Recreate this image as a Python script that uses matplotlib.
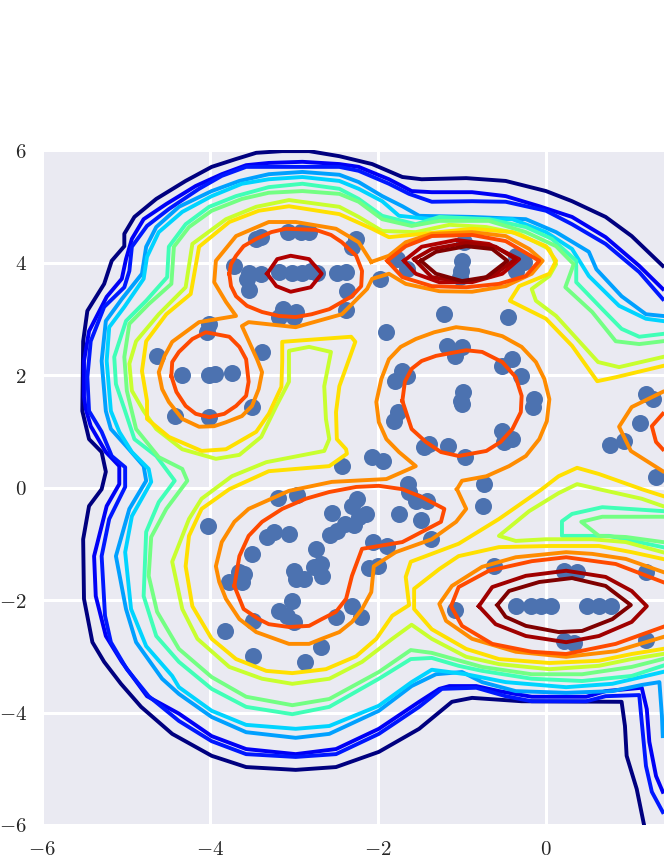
import matplotlib
matplotlib.use('Agg')
import matplotlib.pyplot as plt
import numpy as np

plt.rcParams['mathtext.fontset'] = 'cm'
plt.rcParams['font.family'] = 'serif'

x_tick_values = [-6, -4, -2, 0]
x_tick_labels = ['$-6$', '$-4$', '$-2$', '$0$']
y_tick_values = [-6, -4, -2, 0, 2, 4, 6]
y_tick_labels = ['$-6$', '$-4$', '$-2$', '$0$', '$2$', '$4$', '$6$']

# samples
samples = [
    (-3.39, 4.45), (-3.45, 4.42), (-3.07, 4.54), (-2.92, 4.54), (-2.82, 4.54), (-2.26, 4.42), (-2.31, 4.28),
    (-3.71, 3.94), (-3.54, 3.81), (-3.39, 3.80), (-3.56, 3.71), (-3.54, 3.51), (-3.18, 3.83), (-3.02, 3.81),
    (-2.90, 3.81), (-2.80, 3.85), (-2.73, 3.81), (-2.49, 3.81), (-2.38, 3.83), (-2.37, 3.49), (-2.38, 3.16),
    (-3.13, 3.17), (-2.98, 3.12), (-3.18, 3.03), (-3.00, 3.03), (-4.01, 2.91), (-4.04, 2.76), (-4.63, 2.34),
    (-3.38, 2.41), (-4.33, 2.00), (-4.01, 2.00), (-3.94, 2.02), (-3.74, 2.04), (-4.42, 1.27), (-4.01, 1.25),
    (-3.50, 1.43), (-1.90, 2.76), (-1.98, 3.71), (-1.77, 4.06), (-1.65, 3.88), (-0.98, 4.36), (-1.00, 4.03),
    (-1.01, 3.85), (-1.02, 3.74), (-0.36, 4.12), (-0.26, 4.01), (-0.36, 3.85), (-1.21, 3.08), (-0.45, 3.03),
    (-1.18, 2.52), (-1.00, 2.50), (-1.08, 2.34), (-0.40, 2.28), (-0.52, 2.16), (-0.30, 1.98), (-1.71, 2.07),
    (-1.65, 1.98), (-1.80, 1.89), (-0.14, 1.57), (-0.15, 1.43), (-0.99, 1.70), (-1.01, 1.54), (-1.00, 1.48),
    (-1.76, 1.34), (-1.81, 1.18), (-0.52, 1.00), (-0.40, 0.86), (-0.50, 0.81), (-1.39, 0.77), (-1.45, 0.72),
    (-1.17, 0.74), (-0.96, 0.54), (-2.07, 0.54), (-1.94, 0.47), (-1.64, 0.06), (-0.74, 0.06), (1.19, 1.66),
    (1.27, 1.57), (1.12, 1.15), (0.93, 0.83), (0.76, 0.76), (1.31, 0.19), (-2.43, 0.38), (-3.19, -0.19),
    (-2.96, -0.13), (-4.02, -0.68), (-2.55, -0.45), (-2.25, -0.20), (-2.31, -0.33), (-2.14, -0.47),
    (-2.23, -0.52), (-2.29, -0.67), (-2.39, -0.65), (-2.49, -0.77), (-2.57, -0.84), (-3.32, -0.88),
    (-3.24, -0.79), (-3.06, -0.83), (-3.50, -1.18), (-2.74, -1.09), (-1.63, -0.08), (-1.55, -0.24),
    (-1.42, -0.24), (-1.75, -0.47), (-1.49, -0.58), (-1.37, -0.92), (-2.06, -0.97), (-1.89, -1.04),
    (-2.11, -1.43), (-2.00, -1.40), (-3.60, -1.54), (-3.65, -1.50), (-3.77, -1.68), (-3.62, -1.68),
    (-3.00, -1.48), (-2.98, -1.63), (-2.88, -1.63), (-2.76, -1.41), (-2.68, -1.36), (-2.67, -1.57),
    (-3.02, -2.02), (-3.18, -2.20), (-3.08, -2.28), (-3.00, -2.39), (-3.49, -2.37), (-3.82, -2.55),
    (-3.49, -3.00), (-2.87, -3.10), (-2.68, -2.84), (-2.50, -2.30), (-2.31, -2.11), (-2.20, -2.30),
    (-0.62, -1.40), (0.21, -1.48), (0.37, -1.50), (1.19, -1.50), (-0.36, -2.11), (-0.18, -2.11),
    (-0.06, -2.11), (0.06, -2.11), (0.49, -2.11), (0.63, -2.11), (0.77, -2.11), (-1.08, -2.18),
    (0.21, -2.73), (0.33, -2.76), (1.19, -2.71), (-0.75, -0.33),
]

navy = [
    (1.39, 3.94), (1.02, 4.47), (0.71, 4.81), (0.31, 5.09), (0, 5.27), (-0.48, 5.45), (-0.95, 5.50), (-1.48, 5.48),
    (-1.71, 5.52), (-2.07, 5.75), (-2.46, 5.89), (-2.82, 5.98), (-3.14, 5.98), (-3.45, 5.95), (-3.69, 5.84),
    (-3.98, 5.70), (-4.29, 5.45), (-4.64, 5.13), (-4.90, 4.81), (-5.02, 4.51), (-5.02, 4.29), (-5.17, 4.03),
    (-5.26, 3.62), (-5.46, 3.14), (-5.51, 2.60), (-5.52, 1.36), (-5.44, 0.86), (-5.29, 0.63), (-5.24, 0.28),
    (-5.29, -0.03), (-5.44, -0.33), (-5.51, -0.92), (-5.50, -1.98), (-5.40, -2.75), (-5.26, -3.10), (-5.06, -3.49),
    (-4.82, -3.90), (-4.45, -4.38), (-3.98, -4.77), (-3.57, -4.97), (-2.98, -5.02), (-2.50, -4.97), (-1.99, -4.70),
    (-1.51, -4.29), (-1.12, -3.81), (-0.88, -3.74), (-0.29, -3.80), (0.90, -3.81), (0.94, -4.24), (0.96, -4.77),
    (1.08, -5.36), (1.17, -6.02),
]
blue_a = [
    (1.39, 3.53), (1.11, 3.94), (0.71, 4.45), (0.31, 4.81), (-0.08, 5.00), (-0.48, 5.18), (-0.88, 5.25), (-1.36, 5.25),
    (-1.60, 5.27), (-1.87, 5.48), (-2.23, 5.70), (-2.46, 5.75), (-2.90, 5.79), (-3.30, 5.77), (-3.57, 5.73),
    (-3.86, 5.57), (-4.17, 5.36), (-4.52, 5.04), (-4.79, 4.77), (-4.93, 4.42), (-5.00, 4.06), (-5.05, 3.71),
    (-5.23, 3.39), (-5.44, 2.78), (-5.50, 2.25), (-5.50, 1.61), (-5.48, 1.40), (-5.42, 1.09), (-5.24, 0.63),
    (-5.08, 0.38), (-5.08, 0.06), (-5.23, -0.33), (-5.38, -1.22), (-5.36, -1.93), (-5.24, -2.64), (-5.05, -3.10),
    (-4.75, -3.71), (-4.37, -4.02), (-3.98, -4.42), (-3.57, -4.65), (-2.98, -4.74), (-2.50, -4.65), (-1.99, -4.29),
    (-1.51, -3.81), (-1.27, -3.58), (-1.15, -3.53), (-0.83, -3.53), (-0.56, -3.62), (-0.17, -3.72), (0.48, -3.72),
    (0.71, -3.62), (1.14, -3.56), (1.20, -3.94), (1.23, -4.52), (1.31, -5.13), (1.39, -5.41),
]
blue_b = [
    (1.39, 3.35), (1.11, 3.83), (0.71, 4.33), (0.31, 4.68), (0, 4.92), (-0.48, 5.08), (-0.88, 5.09), (-1.36, 5.08),
    (-1.63, 5.22), (-1.87, 5.40), (-2.23, 5.63), (-2.46, 5.70), (-3.30, 5.70), (-3.57, 5.70), (-3.86, 5.54),
    (-4.13, 5.31), (-4.49, 4.95), (-4.75, 4.65), (-4.93, 4.28), (-4.96, 3.85), (-5.02, 3.56), (-5.26, 3.21),
    (-5.42, 2.60), (-5.46, 1.96), (-5.44, 1.36), (-5.29, 0.99), (-5.17, 0.56), (-5.01, 0.36), (-5.01, 0.01),
    (-5.20, -0.56), (-5.29, -1.22), (-5.25, -2.28), (-5.18, -2.75), (-4.99, -3.23), (-4.73, -3.71), (-4.37, -4.15),
    (-3.98, -4.51), (-3.57, -4.74), (-2.98, -4.79), (-2.50, -4.74), (-1.99, -4.38), (-1.51, -3.90), (-1.24, -3.58),
    (-0.83, -3.56), (-0.48, -3.71), (-0.17, -3.80), (0.48, -3.80), (0.71, -3.71), (1.11, -3.69), (1.14, -4.17),
    (1.19, -4.95), (1.26, -5.41), (1.39, -5.77),
]
azure = [
    (1.39, 3.05), (1.19, 3.08), (0.90, 3.40), (0.60, 3.88), (0.51, 4.19), (0.12, 4.54), (-0.24, 4.77), (-0.88, 4.81),
    (-1.51, 4.83), (-1.71, 5.00), (-1.95, 5.18), (-2.23, 5.43), (-2.46, 5.56), (-2.90, 5.61), (-3.30, 5.57),
    (-3.65, 5.45), (-3.98, 5.27), (-4.37, 4.99), (-4.64, 4.63), (-4.76, 4.28), (-4.81, 3.80), (-5.05, 3.35),
    (-5.24, 2.96), (-5.29, 2.25), (-5.24, 1.36), (-5.18, 1.04), (-5.00, 0.74), (-4.79, 0.38), (-4.76, 0.12),
    (-4.96, -0.38), (-5.12, -1.22), (-5.00, -2.16), (-4.88, -2.75), (-4.57, -3.40), (-4.37, -3.67), (-3.98, -4.08),
    (-3.57, -4.35), (-2.98, -4.45), (-2.58, -4.38), (-1.99, -3.97), (-1.60, -3.53), (-1.31, -3.32), (-1.00, -3.28),
    (-0.76, -3.46), (-0.36, -3.62), (0.24, -3.65), (0.79, -3.62), (1.14, -3.51), (1.35, -3.46), (1.38, -4.06),
    (1.39, -4.42),
]
cyan = [
    (1.39, 2.96), (1.19, 3.00), (0.87, 3.23), (0.51, 3.76), (0.31, 4.24), (0, 4.54), (-0.40, 4.77), (-1.36, 4.77),
    (-1.75, 4.83), (-1.95, 5.09), (-2.23, 5.31), (-2.46, 5.45), (-2.90, 5.52), (-3.30, 5.48), (-3.62, 5.40),
    (-3.98, 5.18), (-4.33, 4.90), (-4.61, 4.54), (-4.75, 4.10), (-4.79, 3.71), (-5.02, 3.21), (-5.20, 2.85),
    (-5.23, 2.25), (-5.18, 1.36), (-5.08, 0.99), (-4.93, 0.63), (-4.73, 0.33), (-4.70, 0.10), (-4.93, -0.51),
    (-5.01, -1.15), (-4.94, -2.16), (-4.76, -2.82), (-4.45, -3.35), (-4.37, -3.55), (-3.98, -3.97), (-3.57, -4.22),
    (-2.98, -4.29), (-2.58, -4.24), (-1.99, -3.88), (-1.60, -3.46), (-1.36, -3.24), (-0.95, -3.32), (-0.48, -3.46),
    (0.24, -3.55), (0.79, -3.49), (1.39, -3.28),
]
green_a = [
    (1.39, 2.73), (1.11, 2.68), (0.90, 2.82), (0.67, 3.17), (0.36, 3.65), (0.36, 4.03), (0.07, 4.42), (-0.24, 4.63),
    (-0.68, 4.77), (-1.27, 4.81), (-1.55, 4.68), (-1.95, 4.83), (-2.23, 5.13), (-2.46, 5.31), (-2.90, 5.40),
    (-3.30, 5.34), (-3.69, 5.18), (-4.01, 4.99), (-4.29, 4.68), (-4.49, 4.28), (-4.51, 3.74), (-4.76, 3.32),
    (-5.00, 2.96), (-5.14, 2.32), (-5.12, 1.84), (-5.02, 1.40), (-4.90, 0.86), (-4.64, 0.56), (-4.42, 0.12),
    (-4.61, -0.26), (-4.76, -0.79), (-4.79, -1.93), (-4.64, -2.64), (-4.37, -3.10), (-3.98, -3.58), (-3.57, -3.90),
    (-3.02, -4.03), (-2.58, -3.90), (-1.99, -3.40), (-1.61, -3.05), (-1.36, -3.03), (-1.04, -3.17), (-0.76, -3.26),
    (-0.17, -3.40), (0.43, -3.44), (1.02, -3.35), (1.39, -3.17),
]
green_b = [
    (1.39, 2.60), (1.11, 2.55), (0.83, 2.60), (0.55, 3.12), (0.23, 3.56), (0.33, 3.97), (0.12, 4.29), (-0.24, 4.54),
    (-0.68, 4.74), (-1.27, 4.74), (-1.60, 4.65), (-1.95, 4.77), (-2.23, 5.08), (-2.46, 5.22), (-2.90, 5.27),
    (-3.30, 5.24), (-3.62, 5.13), (-3.98, 4.92), (-4.25, 4.63), (-4.43, 4.28), (-4.46, 3.62), (-4.73, 3.26),
    (-4.96, 2.91), (-5.02, 2.32), (-4.99, 1.72), (-4.88, 1.04), (-4.61, 0.54), (-4.33, 0.33), (-4.27, 0.12),
    (-4.52, -0.38), (-4.70, -0.88), (-4.73, -1.57), (-4.63, -2.21), (-4.37, -2.87), (-3.98, -3.37), (-3.57, -3.72),
    (-3.02, -3.87), (-2.58, -3.76), (-1.99, -3.28), (-1.61, -2.89), (-1.36, -2.94), (-0.76, -3.19), (-0.17, -3.32),
    (0.43, -3.32), (1.02, -3.19), (1.39, -3.05),
]
green_a_island = [(1.39, -0.42), (0.67, -0.35), (0.31, -0.47), (0.19, -0.60), (0.19, -0.86), (0.75, -0.86), (1.39, -1.06)]
green_b_island = [(1.39, -0.52), (0.67, -0.52), (0.42, -0.61), (0.63, -0.86), (0.95, -0.88), (1.39, -0.97)]
lime = [
    (1.39, 2.32), (0.87, 2.14), (0.62, 2.23), (0.48, 2.46), (0.12, 3.05), (-0.12, 3.32), (-0.17, 3.53), (0.04, 3.76),
    (0.12, 3.97), (0.04, 4.24), (-0.32, 4.51), (-0.71, 4.63), (-1.15, 4.67), (-1.55, 4.54), (-1.95, 4.56),
    (-2.23, 4.81), (-2.46, 4.99), (-3.06, 5.11), (-3.45, 4.99), (-3.81, 4.77), (-4.21, 4.33), (-4.29, 3.56),
    (-4.61, 3.08), (-4.88, 2.60), (-4.96, 2.20), (-4.93, 1.72), (-4.79, 1.36), (-4.64, 1.04), (-4.33, 0.68),
    (-3.93, 0.51), (-3.65, 0.58), (-3.39, 0.90), (-3.21, 1.45), (-3.06, 1.88), (-3.06, 2.43), (-2.82, 2.50),
    (-2.56, 2.41), (-2.64, 1.80), (-2.62, 1.22), (-2.58, 0.86), (-2.64, 0.65), (-3.33, 0.45), (-3.74, 0.20),
    (-4.10, -0.20), (-4.25, -0.56), (-4.45, -1.32), (-4.33, -2.16), (-4.15, -2.69), (-3.77, -3.19), (-3.38, -3.40),
    (-3.02, -3.49), (-2.58, -3.40), (-2.19, -3.10), (-1.83, -2.69), (-1.60, -2.44), (-1.36, -2.69), (-0.95, -3.01),
    (-0.56, -3.14), (0.04, -3.23), (0.63, -3.17), (1.02, -3.05), (1.39, -2.96),
]
lime_island = [
    (1.39, -0.33), (1.14, -0.20), (0.63, -0.03), (0.37, 0.06), (0.15, -0.10), (-0.20, -0.42), (-0.56, -0.86),
    (-0.36, -0.95), (0, -0.92), (0.55, -0.92), (0.95, -0.97), (1.39, -1.15),
]
yellow = [
    (1.39, 2.16), (0.83, 1.96), (0.61, 1.89), (0.31, 2.52), (0, 3.00), (-0.43, 3.32), (-0.32, 3.58), (0.04, 3.80),
    (0.12, 4.03), (0, 4.29), (-0.40, 4.54), (-0.88, 4.60), (-1.27, 4.54), (-1.87, 4.45), (-2.07, 4.60), (-2.46, 4.86),
    (-3.06, 5.00), (-3.42, 4.92), (-3.77, 4.72), (-4.13, 4.28), (-4.23, 3.44), (-4.52, 3.08), (-4.76, 2.60),
    (-4.81, 2.07), (-4.75, 1.54), (-4.75, 1.22), (-4.49, 0.90), (-4.10, 0.65), (-3.81, 0.68), (-3.45, 0.99),
    (-3.30, 1.31), (-3.15, 1.79), (-3.14, 2.25), (-3.14, 2.59), (-2.32, 2.68), (-2.27, 2.59), (-2.46, 1.80),
    (-2.50, 1.34), (-2.49, 0.86), (-2.38, 0.68), (-2.37, 0.60), (-2.58, 0.38), (-3.30, 0.29), (-3.77, -0.03),
    (-4.10, -0.38), (-4.25, -0.86), (-4.29, -1.40), (-4.21, -2.11), (-3.98, -2.69), (-3.69, -3.05), (-3.33, -3.26),
    (-3.02, -3.30), (-2.62, -3.23), (-2.26, -3.00), (-2.02, -2.69), (-1.83, -2.28), (-1.63, -2.09), (-1.67, -1.59),
    (-1.61, -1.32), (-1.04, -1.00), (-0.56, -0.56), (-0.05, -0.03), (0.15, 0.20), (0.37, 0.35), (0.63, 0.24),
    (1.14, -0.03), (1.39, -0.15),
]
yellow_bottom = [
    (1.39, -1.27), (1.02, -1.15), (0.63, -1.04), (0.04, -1.04), (-0.56, -1.06), (-1.04, -1.22), (-1.27, -1.45),
    (-1.57, -1.80), (-1.57, -2.16), (-1.36, -2.52), (-0.95, -2.87), (-0.56, -3.05), (0.04, -3.12), (0.63, -3.08),
    (1.02, -2.96), (1.39, -2.87),
]
orange_upper = [
    (-2.08, 4.01), (-1.87, 4.12), (-1.67, 4.36), (-1.36, 4.51), (-0.88, 4.54), (-0.48, 4.47), (-0.20, 4.24),
    (-0.04, 4.03), (-0.17, 3.80), (-0.48, 3.58), (-0.88, 3.48), (-1.27, 3.49), (-1.67, 3.62), (-1.87, 3.80),
    (-2.07, 3.71), (-2.13, 3.53), (-2.43, 3.08), (-2.98, 2.85), (-3.54, 2.94), (-3.62, 2.87), (-3.44, 2.28),
    (-3.38, 2.05), (-3.42, 1.75), (-3.50, 1.45), (-3.62, 1.27), (-3.81, 1.16), (-3.95, 1.09), (-4.13, 1.08),
    (-4.33, 1.22), (-4.49, 1.52), (-4.57, 1.75), (-4.61, 2.05), (-4.54, 2.34), (-4.45, 2.59), (-4.13, 2.94),
    (-3.69, 3.05), (-3.81, 3.30), (-3.95, 3.65), (-3.93, 4.03), (-3.69, 4.47), (-3.30, 4.72), (-2.98, 4.72),
    (-2.50, 4.60), (-2.23, 4.36), (-2.08, 4.01),
]
orange_lower = [
    (-1.06, -0.03), (-1.00, 0.12), (-0.71, 0.20), (-0.44, 0.38), (-0.24, 0.56), (-0.08, 0.86), (0.01, 1.18),
    (0.04, 1.57), (-0.02, 1.93), (-0.12, 2.23), (-0.29, 2.50), (-0.52, 2.69), (-0.80, 2.80), (-1.07, 2.85),
    (-1.33, 2.76), (-1.55, 2.64), (-1.73, 2.50), (-1.87, 2.28), (-1.96, 1.93), (-2.02, 1.52), (-1.99, 1.16),
    (-1.90, 0.86), (-1.75, 0.63), (-1.55, 0.38), (-1.90, 0.15), (-2.55, 0.10), (-3.06, -0.06), (-3.54, -0.38),
    (-3.71, -0.61), (-3.86, -0.97), (-3.93, -1.40), (-3.89, -1.68), (-3.81, -1.98), (-3.65, -2.34), (-3.45, -2.57),
    (-3.06, -2.78), (-2.82, -2.78), (-2.67, -2.69), (-2.46, -2.57), (-2.31, -2.39), (-2.19, -2.16), (-2.08, -1.86),
    (-2.05, -1.40), (-1.79, -1.15), (-1.36, -0.92), (-1.07, -0.61), (-0.95, -0.38), (-1.06, -0.03),
]
orange_bottom = [
    (1.39, -1.50), (0.95, -1.27), (0.55, -1.18), (0.24, -1.15), (-0.36, -1.24), (-0.76, -1.41), (-1.12, -1.75),
    (-1.27, -2.07), (-1.19, -2.37), (-0.88, -2.69), (-0.36, -2.92), (0.24, -3.01), (0.83, -2.91), (1.39, -2.66),
]
orange_right = [(1.39, 1.70), (1.02, 1.43), (0.87, 1.08), (1.01, 0.65), (1.39, 0.29)]
red_upper = [
    (-3.77, 3.80), (-3.75, 3.97), (-3.69, 4.12), (-3.60, 4.29), (-3.45, 4.42), (-3.27, 4.54), (-3.10, 4.60),
    (-2.74, 4.58), (-2.56, 4.49), (-2.43, 4.36), (-2.26, 4.12), (-2.19, 3.85), (-2.20, 3.58), (-2.31, 3.40),
    (-2.58, 3.17), (-2.79, 3.08), (-2.98, 3.03), (-3.18, 3.05), (-3.38, 3.12), (-3.56, 3.23), (-3.69, 3.40),
    (-3.75, 3.58), (-3.77, 3.80),
]
red_left = [
    (-4.46, 1.98), (-4.45, 2.23), (-4.37, 2.41), (-4.21, 2.64), (-4.05, 2.76), (-3.77, 2.68), (-3.65, 2.50),
    (-3.57, 2.28), (-3.54, 1.88), (-3.57, 1.63), (-3.69, 1.45), (-3.83, 1.31), (-4.01, 1.25), (-4.17, 1.31),
    (-4.29, 1.45), (-4.40, 1.70), (-4.46, 1.98),
]
red_top = [
    (-1.89, 4.03), (-1.67, 4.29), (-1.36, 4.47), (-0.88, 4.49), (-0.48, 4.38), (-0.08, 4.03), (-0.24, 3.76),
    (-0.56, 3.62), (-0.95, 3.56), (-1.36, 3.58), (-1.71, 3.74), (-1.89, 4.03),
]
red_center = [
    (-1.71, 1.54), (-1.68, 1.88), (-1.60, 2.11), (-1.48, 2.25), (-1.31, 2.34), (-0.95, 2.44), (-0.76, 2.41),
    (-0.52, 2.23), (-0.36, 1.96), (-0.29, 1.63), (-0.30, 1.34), (-0.40, 1.04), (-0.54, 0.81), (-0.71, 0.65),
    (-1.04, 0.56), (-1.25, 0.63), (-1.43, 0.81), (-1.60, 1.04), (-1.71, 1.54),
]
red_lower = [
    (-3.71, -1.75), (-3.65, -1.22), (-3.54, -0.86), (-3.38, -0.61), (-3.14, -0.38), (-2.86, -0.20), (-2.58, -0.08),
    (-2.26, 0.01), (-1.99, 0.03), (-1.71, -0.03), (-1.48, -0.17), (-1.21, -0.38), (-1.25, -0.61), (-1.71, -0.97),
    (-2.19, -1.09), (-2.31, -1.57), (-2.38, -1.98), (-2.50, -2.21), (-2.67, -2.34), (-2.82, -2.46), (-3.06, -2.48),
    (-3.30, -2.43), (-3.42, -2.34), (-3.60, -2.16), (-3.71, -1.75),
]
red_bottom = [
    (1.39, -1.68), (0.83, -1.36), (0.24, -1.24), (-0.17, -1.31), (-0.68, -1.48), (-1.04, -1.77), (-1.13, -2.11),
    (-1.00, -2.46), (-0.64, -2.78), (-0.17, -2.92), (0.24, -2.96), (0.83, -2.78), (1.39, -2.48),
]
red_right = [(1.39, 1.31), (1.26, 1.09), (1.31, 0.81), (1.39, 0.68)]
dark_upper = [
    (-3.32, 3.80), (-3.20, 4.06), (-3.04, 4.12), (-2.82, 4.06), (-2.67, 3.80), (-2.80, 3.56), (-3.04, 3.48),
    (-3.21, 3.58), (-3.32, 3.80),
]
dark_top_a = [
    (-1.69, 4.03), (-1.48, 4.28), (-1.07, 4.40), (-0.68, 4.33), (-0.32, 4.06), (-0.52, 3.80), (-0.88, 3.65),
    (-1.27, 3.65), (-1.55, 3.80), (-1.69, 4.03),
]
dark_top_b = [
    (-1.57, 4.06), (-1.36, 4.24), (-0.95, 4.35), (-0.60, 4.28), (-0.36, 4.06), (-0.64, 3.76), (-0.95, 3.65),
    (-1.36, 3.74), (-1.57, 4.06),
]
dark_bottom = [
    (-0.80, -2.11), (-0.64, -1.77), (-0.24, -1.57), (0.24, -1.48), (0.71, -1.59), (1.02, -1.84), (1.20, -2.11),
    (1.02, -2.39), (0.63, -2.64), (0.24, -2.75), (-0.24, -2.64), (-0.60, -2.43), (-0.80, -2.11),
]
maroon_top = [
    (-1.49, 4.03), (-1.31, 4.19), (-0.95, 4.29), (-0.64, 4.24), (-0.46, 4.03), (-0.71, 3.74), (-1.00, 3.67),
    (-1.31, 3.80), (-1.49, 4.03),
]
maroon_bottom = [
    (-0.58, -2.09), (-0.44, -1.84), (-0.08, -1.68), (0.31, -1.61), (0.71, -1.75), (1.01, -2.09), (0.79, -2.34),
    (0.43, -2.55), (0.15, -2.57), (-0.24, -2.46), (-0.48, -2.30), (-0.58, -2.09),
]

contours = [
    (navy, '#00007f'), (blue_a, '#0000f5'), (blue_b, '#0018ff'), (azure, '#00a0ff'), (cyan, '#00d4ff'),
    (green_a, '#40ffb7'), (green_a_island, '#40ffb7'), (green_b, '#73ff83'), (green_b_island, '#73ff83'),
    (lime, '#c8ff2e'), (lime_island, '#c8ff2e'), (yellow, '#ffe000'), (yellow_bottom, '#ffe000'),
    (orange_upper, '#ff8c00'), (orange_lower, '#ff8c00'), (orange_bottom, '#ff8c00'), (orange_right, '#ff8c00'),
    (red_upper, '#ff4a00'), (red_left, '#ff4a00'), (red_top, '#ff4a00'), (red_center, '#ff4a00'),
    (red_lower, '#ff4a00'), (red_bottom, '#ff4a00'), (red_right, '#ff4a00'),
    (dark_upper, '#b00000'), (dark_top_a, '#b00000'), (dark_top_b, '#a00000'), (dark_bottom, '#a00000'),
    (maroon_top, '#7f0000'), (maroon_bottom, '#7f0000'),
]

fig = plt.figure(figsize=(6.64, 8.6), dpi=100)
# axes run past the right edge of the picture, as in the reference
ax = fig.add_axes([42 / 664, 35 / 860, 1008 / 664, 675 / 860])
ax.set_facecolor('#EAEAF2')
ax.grid(True, color='white', linewidth=2.2)
ax.set_axisbelow(True)
for side in ax.spines.values():
    side.set_visible(False)

pts = np.array(samples)
ax.scatter(pts[:, 0], pts[:, 1], s=150, color='#4C72B0', linewidths=0, zorder=2)
for line, col in contours:
    arr = np.array(line)
    ax.plot(arr[:, 0], arr[:, 1], color=col, linewidth=2.8, solid_joinstyle='round', zorder=3)

ax.set_xlim(-6, 6)
ax.set_ylim(-6, 6)
ax.set_yticks(y_tick_values, y_tick_labels)
ax.set_xticks(x_tick_values, x_tick_labels)
ax.tick_params(axis='x', length=0, pad=11, labelsize=15, colors='#262626')
ax.tick_params(axis='y', length=0, pad=11, labelsize=15, colors='#262626')

fig.savefig('out.png', dpi=100)
